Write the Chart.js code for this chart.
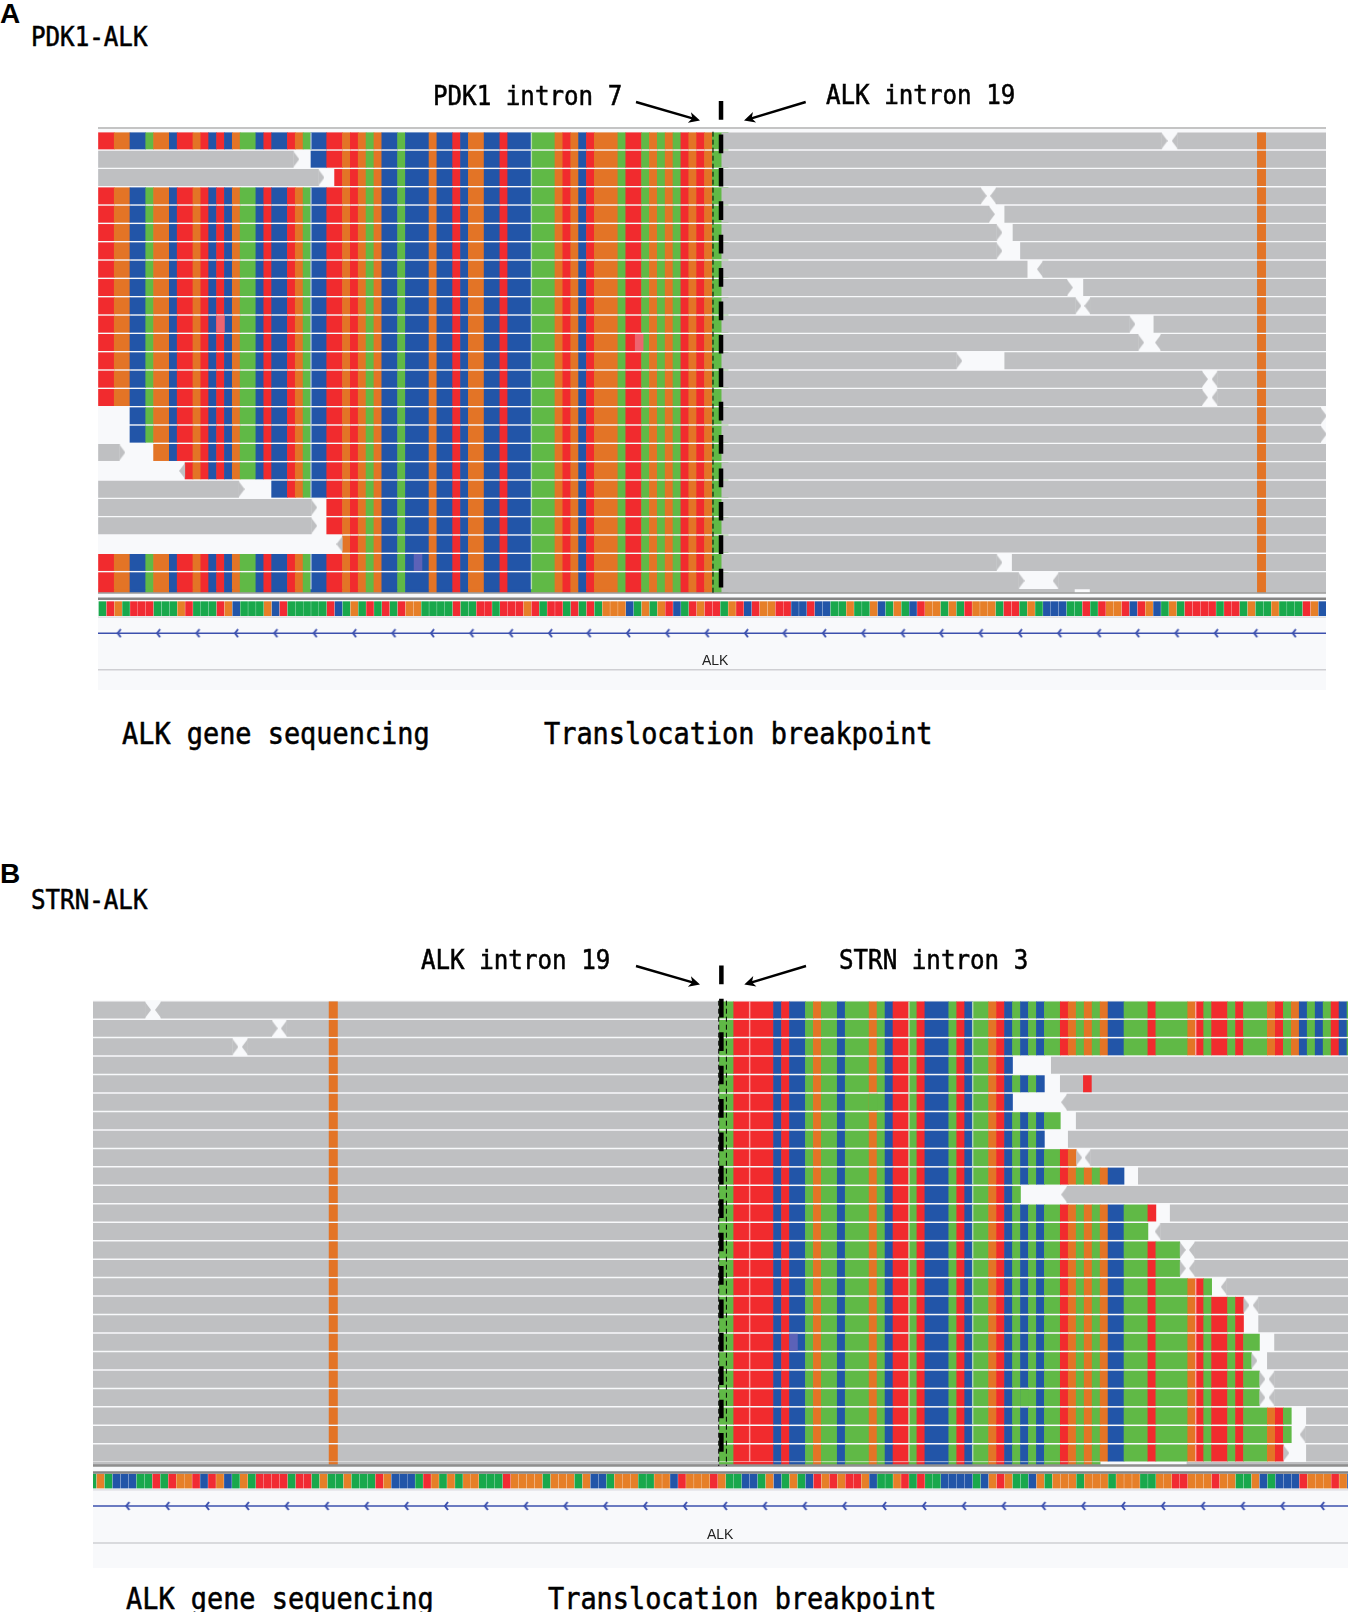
<!DOCTYPE html>
<html>
<head>
<meta charset="utf-8">
<title>ALK translocation breakpoints</title>
<script src="https://cdn.jsdelivr.net/npm/chart.js@4/dist/chart.umd.min.js"></script>
<style>
  html, body { margin: 0; padding: 0; background: #fff; }
  #page { position: relative; width: 1348px; height: 1612px; overflow: hidden; }
  canvas { position: absolute; }
  .txt {
    position: absolute; white-space: pre; color: #000; line-height: 1;
    font-family: "DejaVu Sans Mono", monospace; transform-origin: 0 100%;
  }
  .panel { font-family: "Liberation Sans", Arial, sans-serif; font-weight: bold; font-size: 28px; }
  .small { font-size: 24.2px; transform: scaleY(1.1); -webkit-text-stroke: 0.5px #000; }
  .big { font-size: 26.9px; transform: scaleY(1.1); -webkit-text-stroke: 0.5px #000; }
  .gene { font-family: "Liberation Sans", Arial, sans-serif; font-size: 14px; color: #222; }
</style>
</head>
<body>
<div id="page">
  <canvas id="chartA" width="1228" height="600" style="left:98px;top:95px"></canvas>
  <canvas id="chartB" width="1255" height="615" style="left:93px;top:958px"></canvas>

  <div class="txt panel" style="left:0;top:0">A</div>
  <div class="txt small" style="left:31px;top:26px">PDK1-ALK</div>
  <div class="txt small" style="left:433px;top:85px">PDK1 intron 7</div>
  <div class="txt small" style="left:826px;top:84px">ALK intron 19</div>
  <div class="txt big" style="left:122px;top:722px">ALK gene sequencing</div>
  <div class="txt big" style="left:544px;top:722px">Translocation breakpoint</div>
  <div class="txt gene" style="left:702px;top:653px">ALK</div>

  <div class="txt panel" style="left:0;top:860px">B</div>
  <div class="txt small" style="left:31px;top:889px">STRN-ALK</div>
  <div class="txt small" style="left:421px;top:949px">ALK intron 19</div>
  <div class="txt small" style="left:839px;top:949px">STRN intron 3</div>
  <div class="txt big" style="left:126px;top:1587px">ALK gene sequencing</div>
  <div class="txt big" style="left:548px;top:1587px">Translocation breakpoint</div>
  <div class="txt gene" style="left:707px;top:1527px">ALK</div>
</div>

<script>
// ---- panel A data (x = base position, y = read row) ----
const stripA = 'ATGATTTAAAGTAAATGCAAAGCTAAAAATCAGATATATGGAAAATAATTA' +
  'TTTGTATTATATAGGGCAGAGTCATGTTAGTCTGGTTCCTCCAAGAAGCAGACTGGAG' +
  'ATGGGATTAGACCCAATATGGTCTGCAGATTTTATTAGAAGAAATGC';
const clipA = 'TTGGCCAGGCTTGTCTCGAACTCCTGACCTTGTGAGCCACCCGCCTCGGCCTCCCAAAGTGCTGGGATTAGAGATGTGAA';
const clipStartA = [0, 27, 30, 0, 0, 0, 0, 0, 0, 0, 0, 0, 0, 0, 0, 4, 4, 7, 11, 22, 29, 29, 31, 0, 0];
const readsA = [
  [0, 79.2, 135.07], [0, 137.13, 156], [1, 0, 24.75], [1, 79.2, 156], [2, 0, 27.95], [2, 79.2, 156],
  [3, 79.2, 112.1], [3, 114.06, 156], [4, 79.2, 113.14], [4, 115.15, 156], [5, 79.2, 114.1], [5, 116.2, 156],
  [6, 79.2, 114.1], [6, 117.15, 156], [7, 79.2, 118], [7, 120, 156], [8, 79.2, 123.05], [8, 125.16, 156],
  [9, 79.2, 124.13], [9, 126.03, 156], [10, 79.2, 131], [10, 134.1, 156], [11, 79.2, 132.1], [11, 135, 156],
  [12, 79.2, 109], [12, 115.15, 156], [13, 79.2, 140.2], [13, 142.2, 156], [14, 79.2, 140.2], [14, 142.2, 156],
  [15, 79.2, 155.3], [16, 79.2, 155.3], [17, 0, 2.65], [17, 79.2, 156], [18, 79.2, 156], [19, 0, 17.8], [19, 79.2, 156],
  [20, 0, 27.03], [20, 79.2, 156], [21, 0, 27.03], [21, 79.2, 156], [22, 79.2, 156],
  [23, 79.2, 114.1], [23, 116.1, 156], [24, 79.2, 116.9], [24, 122, 156]
];
const rightTipsA = [
  [0, 135.07], [1, 24.75], [2, 27.95], [3, 112.1], [4, 113.14], [5, 114.1], [6, 114.1], [8, 123.05], [9, 124.13],
  [10, 131], [11, 132.1], [12, 109], [13, 140.2], [14, 140.2], [15, 155.3], [16, 155.3], [17, 2.65], [19, 17.8],
  [20, 27.03], [21, 27.03], [23, 114.1], [24, 116.9]
];
const leftTipsA = [[0, 137.13], [3, 114.06], [7, 120], [9, 126.03], [11, 135], [13, 142.2], [14, 142.2], [18, 11], [22, 31], [24, 122]];
const variantsA = [[10, 15, 't'], [11, 68.2, 't'], [23, 40.1, 'c']];
const seamsA = [27, 55];
const partialGrayA = [[79.2, 124], [126, 156]];
const geneTicksA = [2.7, 7.7, 12.7, 17.6, 22.6, 27.6, 32.6, 37.6, 42.5, 47.5, 52.5, 57.5, 62.4, 67.4, 72.4, 77.4,
  82.4, 87.3, 92.3, 97.3, 102.3, 107.2, 112.2, 117.2, 122.2, 127.2, 132.1, 137.1, 142.1, 147.1, 152];

// ---- panel B data ----
const stripB = 'A' + 'GACCCAATATGGTCTGCAGATTTTATTAGAAGAAATGCCCATGAGAGGAAATGGG' +
  'GAGGGAGCCAGGGAAGGCTGGGTGAACCAGCAGACTGTGTTGCAAGTATAACCCC' +
  'ACGTGAACGAGGGAGGGAGGGAAGGTTGGGTGGAAGCACCCTGGGTGC';
const clipB = 'AATTTTTCTCCAGAACAAAGACTTATCCCATCAAGTCACACAATGAGAGCCAAATAAAAGTATTATAAAGTAGCACATCA';
const clipEndB = [158, 158, 158, 115, 119, 115, 121, 119, 123, 129, 116, 133, 132, 136, 136, 140, 144, 144, 146, 145, 146, 146, 150, 150, 149];
const readsB = [
  [0, -1, 6.09], [0, 8.1, 78.1], [1, -1, 22], [1, 23.9, 78.1], [2, -1, 17.06], [2, 19, 78.1],
  [3, -1, 78.1], [3, 119.87, 158], [4, -1, 78.1], [4, 121, 158], [5, -1, 78.1], [5, 121.85, 158],
  [6, -1, 78.1], [6, 123, 158], [7, -1, 78.1], [7, 122, 158], [8, -1, 78.1], [8, 124.8, 158],
  [9, -1, 78.1], [9, 130.8, 158], [10, -1, 78.1], [10, 121.85, 158], [11, -1, 78.1], [11, 134.8, 158],
  [12, -1, 78.1], [12, 133.6, 158], [13, -1, 78.1], [13, 137.9, 158], [14, -1, 78.1], [14, 137.9, 158],
  [15, -1, 78.1], [15, 141.9, 158], [16, -1, 78.1], [16, 145.9, 158], [17, -1, 78.1], [17, 145.9, 158],
  [18, -1, 78.1], [18, 147.9, 158], [19, -1, 78.1], [19, 147, 158], [20, -1, 78.1], [20, 147.9, 158],
  [21, -1, 78.1], [21, 147.9, 158], [22, -1, 78.1], [22, 151.9, 158], [23, -1, 78.1], [23, 151.8, 158],
  [24, -1, 78.1], [24, 151.9, 158]
];
const rightTipsB = [[0, 6.09], [1, 22], [2, 17.06], [8, 123], [13, 136], [14, 136], [16, 144], [19, 145], [20, 146], [21, 146], [24, 149]];
const leftTipsB = [[0, 8.1], [1, 23.9], [2, 19], [5, 121.85], [8, 124.8], [10, 121.85], [12, 133.6], [13, 137.9], [14, 137.9],
  [15, 141.9], [16, 145.9], [20, 147.9], [21, 147.9], [23, 151.8]];
const variantsB = [[4, 123.9, 'T'], [5, 97, 'A'], [21, 116, 'A'], [18, 87, 'c']];
const seamsB = [82, 102, 110, 138];
const partialGrayB = [[-1, 78.1], [136.9, 158]];
const geneTicksB = [4, 9, 14, 19, 24, 29, 34, 39, 44, 49, 54, 59, 64, 69, 74, 79, 84, 89, 94, 99, 104, 109, 114, 119, 124, 129, 134, 139, 144, 149, 154];

const baseColors = { A: '#60b946', C: '#2255a8', G: '#e37426', T: '#f12b2e', c: '#5c62b8', t: '#ee6470' };
const stripColors = { A: '#19a84c', C: '#2255a8', G: '#e67f28', T: '#f12b33' };
const grayColor = '#bfc0c2';
const orangeColor = '#e37426';

// little canvases used as point styles for the read ends and gene ticks
function shape(w, h, draw) {
  const c = document.createElement('canvas');
  c.width = w; c.height = h;
  draw(c.getContext('2d'));
  return c;
}
const tipRight = shape(12, 16, g => {
  g.fillStyle = grayColor;
  g.beginPath(); g.moveTo(6, 0); g.lineTo(12, 8); g.lineTo(6, 16); g.fill();
});
const tipLeft = shape(12, 16, g => {
  g.fillStyle = grayColor;
  g.beginPath(); g.moveTo(6, 0); g.lineTo(0, 8); g.lineTo(6, 16); g.fill();
});
const chevron = shape(8, 10, g => {
  g.strokeStyle = '#3c50ae'; g.lineWidth = 2;
  g.beginPath(); g.moveTo(5, 1); g.lineTo(2, 5); g.lineTo(5, 9); g.stroke();
});

// merges equal neighbouring bases of one read into a single bar
function addRuns(bars, colors, seq, offset, from, to, y) {
  let start = from;
  for (let u = from; u < to; u++) {
    const cur = seq[u - offset];
    const next = u + 1 < to ? seq[u + 1 - offset] : null;
    if (cur !== next) {
      bars.push({ x: [start, u + 1], y: y });
      colors.push(baseColors[cur]);
      start = u + 1;
    }
  }
}

function stripBars(seq, offset) {
  return Array.from(seq).map((b, i) => ({ x: [i + offset + 0.06, i + offset + 0.94], y: 26.02 }));
}

function hLine(x0, x1, y, color, width) {
  return { type: 'line', data: [{ x: x0, y: y }, { x: x1, y: y }], borderColor: color, borderWidth: width, pointRadius: 0, order: 3 };
}

function vDash(x, y0, y1, width, dash) {
  return { type: 'line', data: [{ x: x, y: y0 }, { x: x, y: y1 }], borderColor: '#000', borderWidth: width, borderDash: dash, pointRadius: 0, order: 1 };
}

function tips(list, style) {
  return {
    type: 'scatter', data: list.map(t => ({ x: t[1], y: t[0] + 0.5 })),
    pointStyle: style, pointRadius: 6, order: 6
  };
}

const panelPlugin = {
  id: 'panelPlugin',
  beforeDatasetsDraw(chart, args, opts) {
    const { ctx, scales } = chart;
    const top = scales.y.getPixelForValue(opts.from);
    const bottom = scales.y.getPixelForValue(opts.to);
    ctx.save();
    ctx.fillStyle = '#f8f9fb';
    ctx.fillRect(chart.chartArea.left, top, chart.chartArea.width, bottom - top);
    ctx.restore();
  },
  afterDraw(chart, args, opts) {
    // the two call-out arrows, given in page pixels
    const ctx = chart.ctx;
    const ox = chart.canvas.offsetLeft, oy = chart.canvas.offsetTop;
    ctx.save();
    ctx.translate(-ox, -oy);
    opts.arrows.forEach(a => {
      const ang = Math.atan2(a[3] - a[1], a[2] - a[0]);
      ctx.strokeStyle = '#000'; ctx.fillStyle = '#000'; ctx.lineWidth = 2.4;
      ctx.beginPath(); ctx.moveTo(a[0], a[1]);
      ctx.lineTo(a[2] - 6 * Math.cos(ang), a[3] - 6 * Math.sin(ang)); ctx.stroke();
      ctx.translate(a[2], a[3]); ctx.rotate(ang);
      ctx.beginPath(); ctx.moveTo(0, 0); ctx.lineTo(-11, -5.5); ctx.lineTo(-8, 0); ctx.lineTo(-11, 5.5); ctx.closePath(); ctx.fill();
      ctx.rotate(-ang); ctx.translate(-a[2], -a[3]);
    });
    ctx.restore();
  }
};

function yScale(min, max) {
  // offset has to be off: the bar defaults switch it on and it would squeeze the rows
  return { type: 'linear', display: false, reverse: true, offset: false, min: min, max: max, ticks: { stepSize: 20 }, grid: { display: false } };
}

function makeChart(id, cfg) {
  // read rows: coloured clipped bases under the grey alignments, variants on top
  const grayBars = cfg.reads.map(r => ({ x: [r[1], r[2]], y: r[0] + 0.5 }));
  const colBars = [], colColors = [], seamBars = [];
  cfg.clips.forEach(c => {
    addRuns(colBars, colColors, cfg.clip, cfg.clipOffset, c[0], c[1], c[2]);
    cfg.seams.filter(u => u > c[0] && u < c[1]).forEach(u => seamBars.push({ x: [u - 0.05, u + 0.05], y: c[2] }));
  });
  const varBars = cfg.variants.map(v => ({ x: [v[1], v[1] + 1], y: v[0] + 0.5 }));
  const varColors = cfg.variants.map(v => baseColors[v[2]]);
  const orangeBars = [];
  for (let r = 0; r < 25; r++) orangeBars.push({ x: [cfg.orange, cfg.orange + 1.05], y: r + 0.5 });

  const partialGray = cfg.partialGray.map(p => ({ x: p, y: cfg.partialY }));
  const partialCol = [], partialColors = [];
  addRuns(partialCol, partialColors, cfg.clip, cfg.clipOffset, cfg.partialClip[0], cfg.partialClip[1], cfg.partialY);

  const bar = { grouped: false, barPercentage: 1, categoryPercentage: 1 };
  return new Chart(document.getElementById(id), {
    data: {
      datasets: [
        { type: 'bar', ...bar, data: grayBars, backgroundColor: grayColor, maxBarThickness: 16.3, order: 7 },
        tips(cfg.rightTips, tipRight), tips(cfg.leftTips, tipLeft),
        { type: 'bar', ...bar, data: colBars, backgroundColor: colColors, maxBarThickness: 16.3, order: 8 },
        { type: 'bar', ...bar, data: seamBars, backgroundColor: 'rgba(255,255,255,0.55)', maxBarThickness: 16.3, order: 5 },
        { type: 'bar', ...bar, data: varBars, backgroundColor: varColors, maxBarThickness: 16.3, order: 4 },
        { type: 'bar', ...bar, data: orangeBars, backgroundColor: orangeColor, maxBarThickness: 16.3, order: 4 },
        // cut-off last read row
        { type: 'bar', ...bar, yAxisID: 'yPartial', data: partialGray, backgroundColor: grayColor, maxBarThickness: 3.3, order: 5 },
        { type: 'bar', ...bar, yAxisID: 'yPartial', data: partialCol, backgroundColor: partialColors, maxBarThickness: 3.3, order: 8 },
        { type: 'bar', ...bar, yAxisID: 'yPartial', data: [{ x: [cfg.orange, cfg.orange + 1.05], y: cfg.partialY }], backgroundColor: orangeColor, maxBarThickness: 3.3, order: 4 },
        // sequence strip
        { type: 'bar', ...bar, yAxisID: 'yStrip', data: stripBars(cfg.strip, cfg.stripOffset),
          backgroundColor: Array.from(cfg.strip).map(b => stripColors[b]), maxBarThickness: 14, order: 4 },
        // frame lines
        ...cfg.lines.map(l => hLine(cfg.xMin, cfg.xMax, l[0], l[1], l[2])),
        hLine(cfg.xMin, cfg.xMax, cfg.geneY, '#3c50ae', 1.6),
        { type: 'scatter', data: cfg.geneTicks.map(x => ({ x: x, y: cfg.geneY })), pointStyle: chevron, pointRadius: 5, order: 2 },
        // break point marks
        ...cfg.dashes.map(d => vDash(d[0], d[1], d[2], d[3], d[4]))
      ]
    },
    options: {
      responsive: false,
      animation: false,
      events: [],
      datasets: { bar: { indexAxis: 'y' } },
      layout: { padding: 0, autoPadding: false },
      scales: {
        x: { type: 'linear', display: false, offset: false, min: cfg.xMin, max: cfg.xMax, grid: { display: false } },
        y: yScale(cfg.yMin, cfg.yMax),
        yPartial: { axis: 'y', ...yScale(cfg.yMin, cfg.yMax) },
        yStrip: { axis: 'y', ...yScale(cfg.yMin, cfg.yMax) }
      },
      plugins: {
        legend: { display: false },
        tooltip: { enabled: false },
        panelPlugin: { from: cfg.bandFrom, to: cfg.bandTo, arrows: cfg.arrows }
      }
    },
    plugins: [panelPlugin]
  });
}

makeChart('chartA', {
  xMin: -0.0635, xMax: 155.97, yMin: -2.0022, yMax: 30.73,
  bandFrom: -0.2, bandTo: 30.46,
  reads: readsA, rightTips: rightTipsA, leftTips: leftTipsA, variants: variantsA, seams: seamsA,
  clip: clipA, clipOffset: 0,
  clips: clipStartA.map((s, r) => [s, 80, r + 0.5]),
  orange: 147.25,
  partialY: 25.05, partialGray: partialGrayA, partialClip: [0, 80],
  strip: stripA, stripOffset: 0,
  geneY: 27.36, geneTicks: geneTicksA,
  lines: [[-0.2, '#c4c4c4', 2], [25.17, '#9a9a9a', 1.5], [25.48, '#858585', 2.5], [26.48, '#d4d4d8', 1], [29.35, '#cfcfd3', 1.5]],
  dashes: [[79.1, -1.67, 25.2, 4.5, [18.7, 14.7]], [78.08, 0, 25.2, 1, [5, 3]]],
  arrows: [[636, 102, 700, 120.5], [805.7, 102, 744, 120.5]]
});

makeChart('chartB', {
  xMin: -0.44, xMax: 157.12, yMin: -2.313, yMax: 31,
  bandFrom: -0.03, bandTo: 30.73,
  reads: readsB, rightTips: rightTipsB, leftTips: leftTipsB, variants: variantsB, seams: seamsB,
  clip: clipB, clipOffset: 78,
  clips: clipEndB.map((e, r) => [78, Math.min(e, 158), r + 0.5]),
  orange: 29.2,
  partialY: 25.1, partialGray: partialGrayB, partialClip: [78, 126],
  strip: stripB, stripOffset: -1,
  geneY: 27.37, geneTicks: geneTicksB,
  lines: [[25.18, '#8e8e8e', 2.5], [25.55, '#858585', 2.5], [26.5, '#d4d4d8', 1], [29.38, '#cfcfd3', 1.5]],
  dashes: [[78.45, -1.91, 25.1, 4.5, [18.7, 14.7]], [78.12, 0, 25.2, 1, [5, 3]], [79.08, 0, 25.2, 1, [5, 3]]],
  arrows: [[636, 966, 700, 984.5], [806, 966, 744.3, 984.5]]
});
</script>
</body>
</html>
